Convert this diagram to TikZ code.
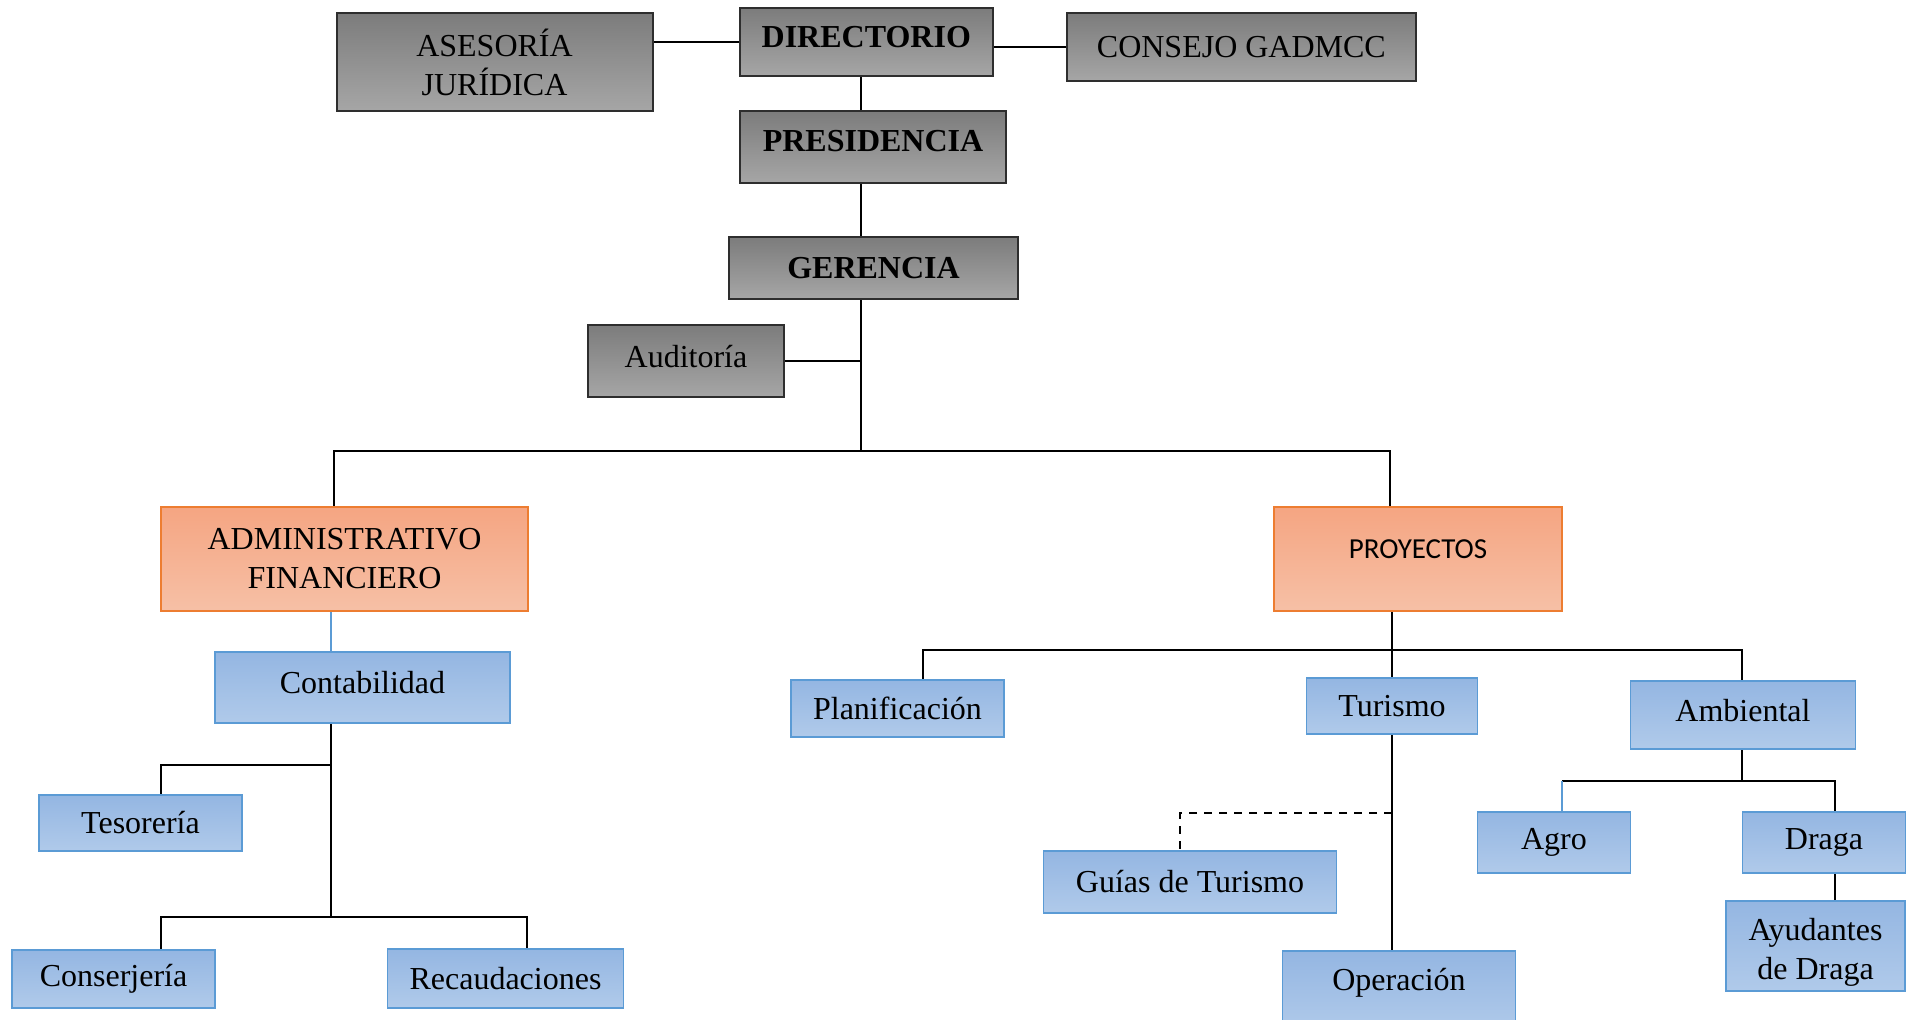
\documentclass[tikz,border=0pt]{standalone}
\usepackage{fontspec}
\setmainfont{Liberation Serif}
\newfontfamily\calibri{Carlito}
\usetikzlibrary{backgrounds}
\definecolor{gTop}{HTML}{7C7C7C}
\definecolor{gBot}{HTML}{A6A6A6}
\definecolor{gOut}{HTML}{2E2E2E}
\definecolor{oTop}{HTML}{F5A582}
\definecolor{oBot}{HTML}{F6C0A6}
\definecolor{oOut}{HTML}{ED7D31}
\definecolor{bTop}{HTML}{94B6E2}
\definecolor{bBot}{HTML}{B0CAEA}
\definecolor{bOut}{HTML}{5B9BD5}
\tikzset{
  box/.style={rectangle, inner sep=0pt, align=center, font=\fontsize{16}{19.5}\selectfont},
  gbox/.style={box, draw=gOut, line width=1pt, top color=gTop, bottom color=gBot},
  obox/.style={box, draw=oOut, line width=0.8pt, top color=oTop, bottom color=oBot},
  bbox/.style={box, draw=bOut, line width=0.8pt, top color=bTop, bottom color=bBot},
  conn/.style={draw=black, line width=0.8pt},
  bconn/.style={draw=bOut, line width=0.6pt},
  dconn/.style={draw=black, line width=0.8pt, dash pattern=on 4pt off 3.5pt},
}
\begin{document}
\begin{tikzpicture}[x=0.5pt, y=-0.5pt]
\useasboundingbox (0,0) rectangle (1912,1019);
\clip (0,0) rectangle (1912,1019);
% top grey boxes
\node[gbox, minimum width=158pt, minimum height=49pt] (ase) at (494.5,62) {ASESORÍA\\JURÍDICA};
\node[gbox, minimum width=126.3pt, minimum height=34pt, text depth=5pt, font=\fontsize{16}{19.5}\selectfont\bfseries] (dir) at (866.3,42) {DIRECTORIO};
\node[gbox, minimum width=174.3pt, minimum height=34pt] (con) at (1241.4,47) {CONSEJO GADMCC};
\node[gbox, minimum width=133pt, minimum height=36pt, text depth=6pt, font=\fontsize{16}{19.5}\selectfont\bfseries] (pre) at (873,147) {PRESIDENCIA};
\node[gbox, minimum width=144.5pt, minimum height=31pt, font=\fontsize{16}{19.5}\selectfont\bfseries] (ger) at (873.5,268) {GERENCIA};
\node[gbox, minimum width=98pt, minimum height=36pt, text depth=5pt] (aud) at (686,361) {Auditoría};
% orange
\node[obox, minimum width=183.5pt, minimum height=52pt] (af) at (344.5,559) {ADMINISTRATIVO\\FINANCIERO};
\node[obox, minimum width=144pt, minimum height=52pt, text depth=10pt, font=\calibri\fontsize{14.5}{17}\selectfont] (pro) at (1418,559) {PROYECTOS};
% left blue
\node[bbox, minimum width=147.5pt, minimum height=35.5pt, text depth=5pt] (cont) at (362.5,687.5) {Contabilidad};
\node[bbox, minimum width=101.5pt, minimum height=28pt] (tes) at (140.5,823) {Tesorería};
\node[bbox, minimum width=101.5pt, minimum height=29pt] (cons) at (113.5,979) {Conserjería};
\node[bbox, minimum width=118pt, minimum height=29.5pt] (rec) at (505.5,978.5) {Recaudaciones};
% right blue
\node[bbox, minimum width=106.5pt, minimum height=28.5pt] (plan) at (897.5,708.5) {Planificación};
\node[bbox, minimum width=85.5pt, minimum height=28pt] (tur) at (1392,706) {Turismo};
\node[bbox, minimum width=112.5pt, minimum height=34pt, text depth=5pt] (amb) at (1743,715) {Ambiental};
\node[bbox, minimum width=146.5pt, minimum height=31pt] (gui) at (1190,882) {Guías de Turismo};
\node[bbox, minimum width=116.5pt, minimum height=40pt, text depth=12pt] (ope) at (1399,991) {Operación};
\node[bbox, minimum width=76.5pt, minimum height=30.5pt] (agro) at (1554,842.5) {Agro};
\node[bbox, minimum width=81.5pt, minimum height=30.5pt] (draga) at (1824,842.5) {Draga};
\node[bbox, minimum width=89.5pt, minimum height=45pt,
  label={[name=ayut, align=center, font=\fontsize{16}{19.5}\selectfont, yshift=-3pt]center:{Ayudantes\\de Draga}}] (ayu) at (1815.5,946) {};
% junction coordinates
\coordinate (t1) at (861,451);
\coordinate (bl) at (334,451);
\coordinate (br) at (1390,451);
\coordinate (cT) at (331,916);
\coordinate (tb) at (161,765);
\coordinate (bb1) at (161,917);
\coordinate (bb2) at (527,917);
\coordinate (pt) at (1392,650);
\coordinate (pb1) at (923,650);
\coordinate (pb2) at (1742,650);
\coordinate (dd) at (1180,813);
\coordinate (ab1) at (1562,781);
\coordinate (ab2) at (1835,781);
\begin{scope}[on background layer]
\draw[conn] (ase.east |- dir.west) -- (dir.west);
\draw[conn] (dir.east |- con.west) -- (con.west);
\draw[conn] (dir.south -| t1) -- (t1);
\draw[conn] (aud.east) -- (aud.east -| t1);
\draw[conn] (af.north -| bl) -- (bl) -- (br) -- (pro.north -| br);
\draw[bconn] (af.south -| cT) -- (cont.north -| cT);
\draw[conn] (cont.south -| cT) -- (cT);
\draw[conn] (tes.north -| tb) -- (tb) -- (tb -| cT);
\draw[conn] (cons.north -| bb1) -- (bb1) -- (bb2) -- (rec.north -| bb2);
\draw[conn] (pro.south -| pt) -- (tur.north -| pt);
\draw[conn] (plan.north -| pb1) -- (pb1) -- (pb2) -- (amb.north -| pb2);
\draw[conn] (tur.south -| pt) -- (ope.north -| pt);
\draw[dconn] (pt |- dd) -- (dd) -- (gui.north -| dd);
\draw[conn] (amb.south -| pb2) -- (pb2 |- ab1);
\draw[conn] (ab1) -- (ab2) -- (draga.north -| ab2);
\draw[bconn] (ab1) -- (agro.north -| ab1);
\draw[conn] (draga.south -| ab2) -- (ayu.north -| ab2);
\end{scope}
\end{tikzpicture}
\end{document}
